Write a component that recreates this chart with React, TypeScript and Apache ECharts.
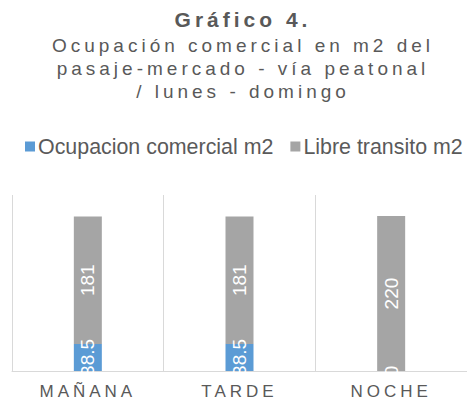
import React, { useEffect, useRef } from "react";
import * as echarts from "echarts";

const categories = ["MAÑANA", "TARDE", "NOCHE"];
const ocupacion = [38.5, 38.5, 0];
const libre = [181, 181, 220];
const seriesNames = ["Ocupacion comercial m2", "Libre transito m2"];
const titleText = "Gráfico 4.";
const subtitleLines = [
  "Ocupación comercial en m2 del",
  "pasaje-mercado - vía peatonal",
  "/ lunes - domingo",
];

const SPACED = "#595959";
const FONT = "'Liberation Sans', Arial, sans-serif";

export default function App() {
  const ref = useRef<HTMLDivElement>(null);
  useEffect(() => {
    document.body.style.margin = "0";
    if (!ref.current) return;
    const chart = echarts.init(ref.current, undefined, { renderer: "svg" });
    chart.setOption({
      animation: false,
      backgroundColor: "#ffffff",
      title: {
        text: titleText,
        subtext: subtitleLines.join("\n"),
        left: 243,
        textAlign: "center",
        top: 9,
        padding: 0,
        itemGap: 4,
        textStyle: {
          fontFamily: FONT,
          fontSize: 21,
          fontWeight: "bold",
          color: SPACED,
        },
        subtextStyle: {
          fontFamily: FONT,
          fontSize: 19,
          lineHeight: 23,
          color: SPACED,
        },
      },
      legend: {
        data: seriesNames,
        left: 25,
        top: 136,
        padding: 0,
        icon: "rect",
        itemWidth: 10,
        itemHeight: 10,
        itemGap: 17,
        textStyle: { fontFamily: FONT, fontSize: 21.4, color: "#5a5a5a", padding: [0, 0, 0, -2] },
      },
      grid: { left: 12, right: -4, top: 195, bottom: 34, containLabel: false },
      xAxis: {
        type: "category",
        data: categories,
        axisLine: { lineStyle: { color: "#d9d9d9", width: 1 } },
        axisTick: { show: false },
        splitLine: { show: true, lineStyle: { color: "#d9d9d9", width: 1 } },
        axisLabel: { fontFamily: FONT, fontSize: 17, color: SPACED, margin: 12 },
      },
      yAxis: { type: "value", min: 0, max: 250, show: false, splitLine: { show: false } },
      series: [
        {
          name: seriesNames[0],
          type: "bar",
          stack: "total",
          data: ocupacion,
          barWidth: 28,
          itemStyle: { color: "#5B9BD5" },
          label: {
            show: true,
            position: "inside",
            rotate: 90,
            color: "#ffffff",
            fontFamily: FONT,
            fontSize: 19,
          },
        },
        {
          name: seriesNames[1],
          type: "bar",
          stack: "total",
          data: libre,
          barWidth: 28,
          itemStyle: { color: "#A5A5A5" },
          label: {
            show: true,
            position: "inside",
            rotate: 90,
            color: "#ffffff",
            fontFamily: FONT,
            fontSize: 19,
          },
        },
      ],
      graphic: [
        {
          type: "rect",
          z: 100,
          silent: true,
          shape: { x: 0, y: 372, width: 467, height: 8 },
          style: { fill: "#ffffff" },
        },
      ],
    });
    return () => chart.dispose();
  }, []);
  return (
    <div className="chart-wrap">
      <style>{`.chart-wrap text[fill="${SPACED}"], .chart-wrap text[fill="rgb(89,89,89)"] { letter-spacing: 4px; }`}</style>
      <div ref={ref} style={{ width: 467, height: 405 }} />
    </div>
  );
}
